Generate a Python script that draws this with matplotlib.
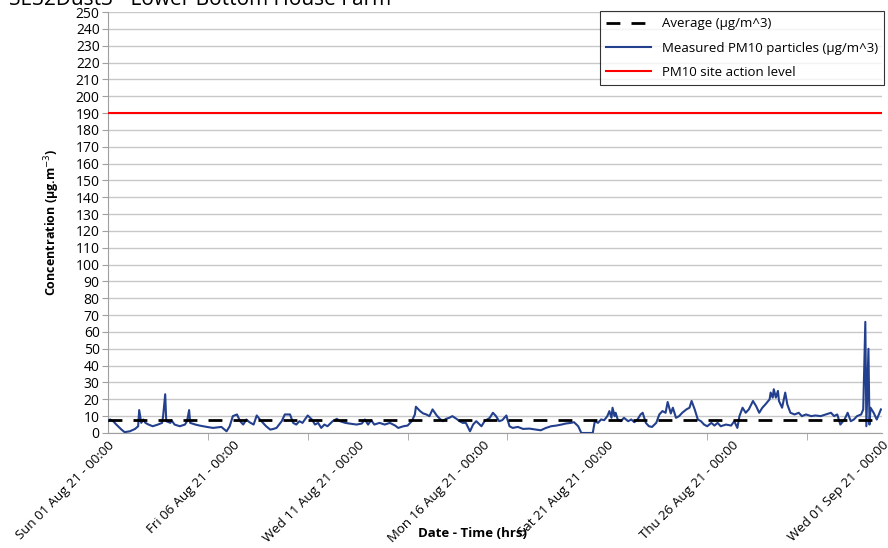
import numpy as np
import matplotlib.pyplot as plt

plt.rcParams['font.family'] = ['Open Sans', 'DejaVu Sans']

# hours since Sun 01 Aug 21 00:00, and measured PM10 (ug/m3)
hours = [0, 2, 5, 8, 13, 16, 21, 26, 29, 30, 32, 34, 36, 39, 43, 48, 52, 53, 55, 56,
         60, 61, 64, 69, 74, 76, 78, 79, 84, 88, 95, 101, 109, 114, 117, 120, 124, 127,
         130, 133, 136, 140, 143, 146, 149, 152, 156, 159, 162, 167, 170, 175, 178, 181,
         184, 187, 192, 196, 199, 202, 205, 208, 211, 216, 220, 223, 228, 232, 239, 244,
         247, 250, 253, 256, 261, 266, 271, 276, 279, 284, 288, 292, 295, 296, 300, 303,
         306, 309, 312, 316, 319, 322, 325, 328, 331, 335, 338, 341, 344, 348, 351, 354,
         359, 362, 367, 370, 373, 376, 379, 383, 384, 386, 389, 394, 399, 405, 412, 416,
         421, 426, 431, 436, 440, 445, 448, 452, 455, 460, 466, 468, 471, 474, 477, 480,
         482, 484, 485, 487, 488, 490, 493, 496, 500, 503, 506, 509, 512, 514, 517, 520,
         523, 527, 530, 533, 536, 538, 540, 541, 543, 546, 549, 552, 556, 559, 561, 564,
         567, 570, 573, 576, 580, 583, 586, 589, 594, 599, 602, 605, 607, 610, 613, 616,
         620, 623, 626, 629, 632, 636, 637, 639, 640, 642, 644, 645, 648, 651, 653, 656,
         660, 664, 667, 671, 676, 680, 685, 690, 695, 698, 701, 704, 708, 711, 714, 717,
         720, 724, 726, 728, 729, 731, 732, 733, 736, 739, 743]
pm10 = [7, 8, 7, 5, 2, 0.5, 1, 2.4, 4, 13.6, 6, 8, 6, 5, 4, 5, 6, 10, 23, 7,
        6, 7.6, 5, 4, 5, 7, 13.6, 6, 5, 4.4, 3.6, 3, 3.6, 1, 4, 10, 11, 7,
        5, 8, 6.4, 5, 10.4, 8, 6, 4, 2, 2.4, 3, 7, 11, 11, 6, 5,
        7, 6, 10.4, 8, 5, 6, 3, 5, 4, 7, 8.4, 7, 6, 5.6, 5, 5.6,
        8, 5, 7.6, 5, 6, 5, 6, 4.4, 3, 4, 4.4, 7, 11, 15.6, 13, 11.6,
        11, 10, 14, 10.4, 8.4, 7, 8.4, 9, 10, 8.4, 7, 6, 6, 1, 5, 7,
        4, 7, 9, 12, 10, 7, 7.6, 10.4, 8, 4, 3, 3.6, 2.4, 2.6, 2, 1.6,
        3, 4, 4.4, 5, 5.6, 6, 6.4, 4, 0, 0, 0, 7, 6, 8, 7.6, 10,
        13, 9, 15, 10, 12, 8, 7, 9, 7, 8, 6.4, 8, 11, 12, 6, 4,
        3.6, 6, 11, 13, 12, 18.4, 14, 11.6, 15, 9, 10, 12, 14, 15, 19, 14,
        8, 7, 5, 4, 6, 4.4, 6, 4, 5, 4.4, 7, 3, 10, 15, 12, 14,
        19, 16, 12, 15, 17, 20, 24, 21, 26, 21, 25, 19, 15, 24, 17, 12,
        11, 12, 10, 11, 10, 10.4, 10, 11, 12, 10, 11, 5, 8, 12, 7, 8,
        10, 11, 14, 66, 4, 50, 5, 15, 12, 8, 14]
average = 7.6
action_level = 190

label_hours = [0, 120, 240, 360, 480, 600, 744]
label_text = ['Sun 01 Aug 21 - 00:00', 'Fri 06 Aug 21 - 00:00', 'Wed 11 Aug 21 - 00:00',
              'Mon 16 Aug 21 - 00:00', 'Sat 21 Aug 21 - 00:00', 'Thu 26 Aug 21 - 00:00',
              'Wed 01 Sep 21 - 00:00']

fig = plt.figure(figsize=(8.88, 5.48), dpi=100)
ax = fig.add_axes([0.1216, 0.2099, 0.8716, 0.7681])

ax.plot([0, 744], [average, average], color='black', lw=2, dashes=(5, 4),
        label='Average (µg/m^3)', zorder=4)
ax.plot(hours, pm10, color='#23408e', lw=1.5, label='Measured PM10 particles (µg/m^3)', zorder=3)
ax.plot([0, 744], [action_level, action_level], color='#ff0000', lw=1.5,
        label='PM10 site action level', zorder=3)

ax.set_xlim(0, 744)
ax.set_ylim(0, 250)
ax.set_yticks(np.arange(0, 251, 10))
ax.grid(axis='y', color='#c8c8c8', lw=1)
ax.set_axisbelow(True)

# tick marks every 4 days, labels every 5 days
ax.set_xticks(np.arange(0, 744, 96), minor=True)
ax.set_xticks(label_hours)
ax.set_xticklabels(label_text, rotation=45, ha='right', rotation_mode='anchor', fontsize=9.5)
ax.tick_params(axis='x', which='major', length=0, pad=4)
ax.tick_params(axis='x', which='minor', length=5, color='#a0a0a0', direction='out')
ax.tick_params(axis='y', length=4, color='#a0a0a0', labelsize=10, pad=2)

for s in ['top', 'right']:
    ax.spines[s].set_visible(False)
for s in ['left', 'bottom']:
    ax.spines[s].set_color('#a0a0a0')

ax.set_ylabel('Concentration (µg.m$^{-3}$)', fontweight='bold', fontsize=9, labelpad=10)
fig.text(0.532, 0.02, 'Date - Time (hrs)', fontweight='bold', fontsize=9.5, ha='center')
fig.text(0.01, 0.99, 'SE32Dust3 - Lower Bottom House Farm', fontsize=15, va='baseline')

leg = ax.legend(loc='upper right', bbox_to_anchor=(1.003, 1.003), fontsize=9.5, frameon=True,
                fancybox=False, borderaxespad=0, handlelength=3.4, labelspacing=0.85,
                borderpad=0.5)
leg.get_frame().set_edgecolor('black')
leg.get_frame().set_linewidth(0.8)

fig.savefig('out.png', dpi=100)
